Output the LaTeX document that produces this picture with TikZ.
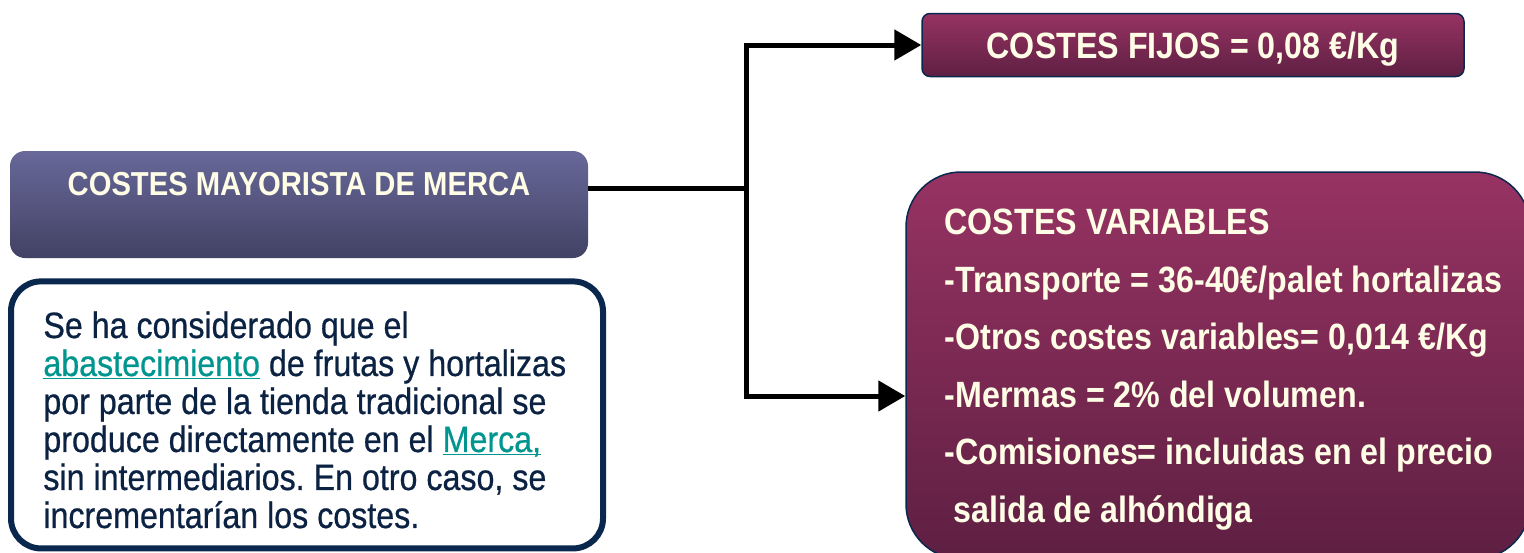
\documentclass[tikz,border=0pt]{standalone}
\usepackage{fontspec}
\setmainfont{Liberation Sans}[FakeStretch=0.88]
\newfontfamily\notafont{Liberation Sans}[FakeStretch=0.88, FakeBold=0.6]
\usepackage{tikz}
\usetikzlibrary{positioning, arrows.meta, calc}
\usepackage{xcolor}
\frenchspacing

\definecolor{lilatop}{RGB}{104,104,154}
\definecolor{lilabot}{RGB}{66,66,100}
\definecolor{vinotop}{RGB}{151,51,99}
\definecolor{vinobot}{RGB}{94,31,66}
\definecolor{marino}{RGB}{10,40,78}
\definecolor{tinta}{RGB}{12,34,66}
\definecolor{crema}{RGB}{255,253,230}
\definecolor{enlace}{RGB}{0,150,143}

\newcommand{\vinculo}[1]{\textcolor{enlace}{\underline{\smash{#1}}}}

\begin{document}
\begin{tikzpicture}[x=0.5pt, y=-0.5pt,
	mayor/.style={rounded corners=7.5pt, top color=lilatop, bottom color=lilabot, minimum width=289pt, minimum height=53.5pt, inner sep=0pt},
	coste/.style={draw=marino, line width=0.75pt, top color=vinotop, bottom color=vinobot, inner sep=0pt},
	nota/.style={draw=marino, line width=3pt, fill=white, rounded corners=15pt, minimum width=296pt, minimum height=133.5pt, inner sep=0pt},
	blanco/.style={text=crema, font=\bfseries\fontsize{18.3pt}{28.8pt}\selectfont, align=left, inner sep=0pt},
	conn/.style={line width=2.5pt, -{Triangle[length=13.5pt,width=15pt]}}]
	\useasboundingbox (0,0) rectangle (1524,552);
	\clip (0,0) rectangle (1524,552);
	
	\node[mayor] (merc) at (299,204.5) {};
	\node[blanco, font=\bfseries\fontsize{16.6pt}{20pt}\selectfont] (merct) at ([yshift=-16.5pt]merc.north) {COSTES MAYORISTA DE MERCA};
	\node[nota, below=10pt of merc, xshift=4pt] (nota) {};
	\node[text=tinta, font=\notafont\fontsize{18.3pt}{19pt}\selectfont, align=left, inner sep=0pt, right=17.5pt of nota.west, yshift=-2.5pt] (notat) {Se ha considerado que el\\
		\vinculo{abastecimiento} de frutas y hortalizas\\
		por parte de la tienda tradicional se\\
		produce directamente en el \vinculo{Merca,}\\
		sin intermediarios. En otro caso, se\\
		incrementarían los costes.};
	
	\node[coste, blanco, rounded corners=4pt, minimum width=271pt, minimum height=31.5pt, text depth=0pt] (fijos) at (1193,45) {COSTES FIJOS = 0,08 €/Kg};
	\node[coste, rounded corners=27.5pt, minimum width=312pt, minimum height=193.5pt] (var) at (1218,365.5) {};
	\node[blanco, right=19.5pt of var.west, yshift=-2pt] (vart) {COSTES VARIABLES\\
		-Transporte = 36-40€/palet hortalizas\\
		-Otros costes variables= 0,014 €/Kg\\
		-Mermas = 2\% del volumen.\\
		-Comisiones= incluidas en el precio\\
		\hspace*{4.5pt}salida de alhóndiga};
	
	\coordinate (split) at (746,188);
	\draw[line width=2.5pt] (merc.east |- split) -- (split);
	\draw[conn] (split) |- (fijos.west);
	\draw[conn] (split) |- ([yshift=-15.25pt]var.west);
\end{tikzpicture}
\end{document}
